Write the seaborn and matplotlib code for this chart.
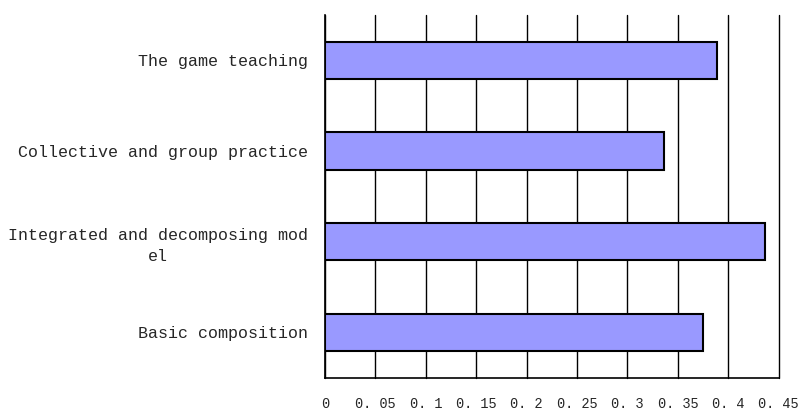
import numpy as np
import pandas as pd
import matplotlib
matplotlib.use("Agg")
import matplotlib.pyplot as plt
import seaborn as sns

sns.set_style("white")
plt.rcParams["font.family"] = ["Liberation Mono", "DejaVu Sans Mono"]

categories = [
    "The game teaching",
    "Collective and group practice",
    "Integrated and decomposing mod\nel",
    "Basic composition",
]
values = [0.389, 0.336, 0.436, 0.375]
xticks = [0, 0.05, 0.1, 0.15, 0.2, 0.25, 0.3, 0.35, 0.4, 0.45]
xtick_labels = ["0", "0. 05", "0. 1", "0. 15", "0. 2", "0. 25", "0. 3", "0. 35", "0. 4", "0. 45"]

df = pd.DataFrame({"method": categories, "share": values})

fig = plt.figure(figsize=(7.98, 4.18), dpi=100)
ax = fig.add_axes([0.4073, 0.0964, 0.5685, 0.8677])

sns.barplot(data=df, x="share", y="method", orient="h", color="#9999FF",
            saturation=1, width=0.41, edgecolor="black", linewidth=1.5,
            zorder=3, ax=ax)

ax.set_xlim(0, 0.45)
ax.set_ylim(len(categories) - 0.5, -0.5)
ax.set_xticks(xticks)
ax.set_xticklabels(xtick_labels, fontsize=9.8)
ax.xaxis.grid(True, color="black", linewidth=1, zorder=0)
for gl in ax.get_xgridlines():
    gl.set_clip_on(False)
ax.tick_params(axis="x", length=0, pad=14)

ax.set_yticks(range(len(categories)))
ax.set_yticklabels(categories, fontsize=12, multialignment="center", linespacing=1.5)
ax.tick_params(axis="y", which="major", length=0, pad=12)
ax.set_yticks(np.arange(-0.5, len(categories), 1), minor=True)
ax.tick_params(axis="y", which="minor", direction="in", length=8, width=1.2, color="black")

ax.set_xlabel("")
ax.set_ylabel("")
for side in ["top", "right"]:
    ax.spines[side].set_visible(False)
for side in ["left", "bottom"]:
    ax.spines[side].set_color("black")
    ax.spines[side].set_linewidth(1.2)
ax.spines["bottom"].set_capstyle("projecting")

fig.savefig("out.png", dpi=100)
